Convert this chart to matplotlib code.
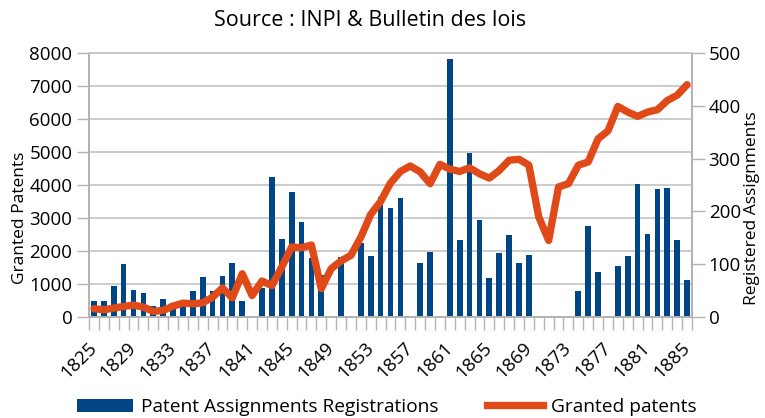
import numpy as np
import matplotlib
matplotlib.use('Agg')
import matplotlib.pyplot as plt
from matplotlib.ticker import MultipleLocator, FixedLocator
from matplotlib.lines import Line2D
from matplotlib.patches import Patch

plt.rcParams['font.family'] = ['Open Sans', 'DejaVu Sans']

########
years = list(range(1825, 1886))
# registered assignments (right axis)
registrations = [30, 30, 58, 100, 52, 45, 20, 34, 27, 27,
                 50, 75, 50, 77, 103, 31, 0, 54, 266, 147,
                 236, 179, 111, 79, 0, 113, 0, 140, 115, 227,
                 206, 225, 0, 102, 124, 0, 488, 145, 310, 183,
                 73, 121, 155, 103, 117, 0, 0, 0, 0, 50,
                 172, 86, 0, 96, 115, 251, 157, 242, 245, 145,
                 71]
# granted patents (left axis)
granted = [250, 220, 270, 320, 360, 300, 170, 200, 330, 420,
           400, 430, 600, 880, 580, 1310, 650, 1090, 950, 1515,
           2120, 2100, 2180, 860, 1465, 1700, 1870, 2420, 3110, 3500,
           4060, 4410, 4575, 4400, 4040, 4625, 4480, 4410, 4520, 4340,
           4210, 4440, 4750, 4780, 4600, 3030, 2320, 3940, 4040, 4600,
           4700, 5400, 5640, 6380, 6210, 6080, 6210, 6280, 6560, 6720,
           7040]
label_years = years[::4]

bar_col = '#004586'
line_col = '#e04a18'
grid_col = '#c8c8c8'
axis_col = '#b3b3b3'
tsize = 13.5

fig = plt.figure(figsize=(7.65, 4.18), dpi=100)
ax = fig.add_axes([89/765, 1-317/418, (692-89)/765, (317-53)/418])
ax2 = ax.twinx()
# line axes on top of the bars
ax.set_zorder(2)
ax.patch.set_visible(False)
ax2.set_zorder(1)

ax2.bar(years, registrations, width=0.58, color=bar_col, zorder=2)
ax.plot(years, granted, color=line_col, lw=5.3, solid_joinstyle='round',
        solid_capstyle='round', zorder=3)

ax.set_xlim(years[0]-0.5, years[-1]+0.5)
ax.set_ylim(0, 8000)
ax2.set_ylim(0, 500)
ax.yaxis.set_major_locator(MultipleLocator(1000))
ax2.yaxis.set_major_locator(MultipleLocator(100))
# grid follows the left scale, drawn behind the bars
ax2.yaxis.set_minor_locator(MultipleLocator(62.5))
ax2.grid(which='minor', axis='y', color=grid_col, lw=1.3)
ax2.set_axisbelow(True)
ax2.tick_params(axis='y', which='minor', length=0)

ax.xaxis.set_major_locator(FixedLocator(label_years))
ax.set_xticklabels([str(y) for y in label_years], rotation=45, ha='right',
                   va='center', rotation_mode='anchor')
ax.xaxis.set_minor_locator(MultipleLocator(1, offset=0.5))
ax.tick_params(axis='x', which='major', length=0, pad=20, labelsize=tsize)
ax.tick_params(axis='x', which='minor', length=9, color=axis_col, width=1)
ax.tick_params(axis='y', length=9, color=axis_col, width=1, labelsize=tsize, pad=3)
ax2.tick_params(axis='y', which='major', length=9, color=axis_col, width=1,
                labelsize=tsize, pad=3)
ax2.tick_params(axis='x', length=0)

for a in (ax, ax2):
    for s in a.spines.values():
        s.set_color(axis_col)
        s.set_linewidth(1.3)
    a.spines['top'].set_color(grid_col)

fig.text(20/765, 1-218/418, 'Granted Patents', rotation=90, ha='center',
         va='center', fontsize=12.5)
fig.text(752/765, 1-208/418, 'Registered Assignments', rotation=90,
         ha='center', va='center', fontsize=12.5)
fig.text(370/765, 1-20/418, 'Source : INPI & Bulletin des lois',
         ha='center', va='center', fontsize=15.5)

handles = [Patch(facecolor=bar_col, edgecolor='none'),
           Line2D([], [], color=line_col, lw=5.3)]
fig.legend(handles, ['Patent Assignments Registrations', 'Granted patents'],
           loc='center', bbox_to_anchor=(387/765, 1-407/418), ncol=2,
           frameon=False, fontsize=13.8, handlelength=2.9, handleheight=0.63,
           handletextpad=0.42, columnspacing=2.55, borderaxespad=0)

plt.savefig('out.png', dpi=100)
